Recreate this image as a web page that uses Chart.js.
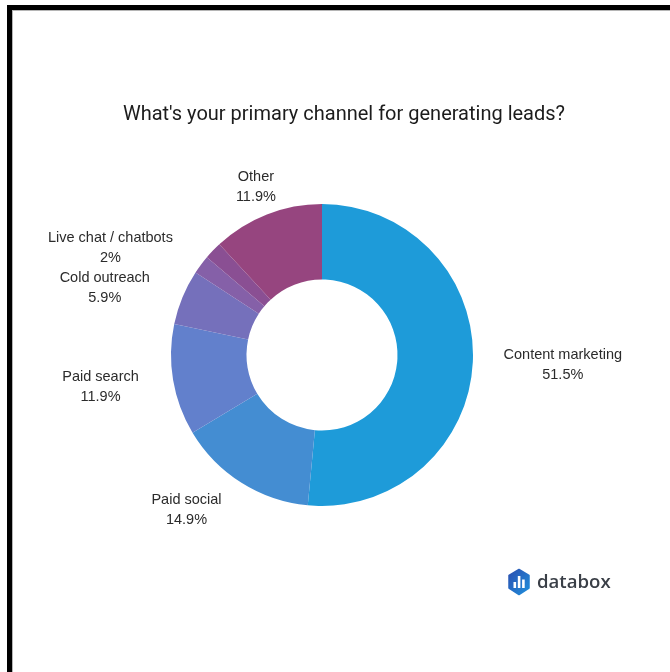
<!DOCTYPE html>
<html>
<head>
  <title>Lead channels</title>
  <script src="https://cdn.jsdelivr.net/npm/chart.js@4.4.1/dist/chart.umd.min.js"></script>
  <style>
    html, body {
      margin: 0;
      background: #fff;
      overflow: hidden;
    }

    .frame {
      position: absolute;
      left: 7px;
      top: 5px;
      width: 670px;
      height: 680px;
      border-left: 5px solid #000;
      border-top: 5px solid #000;
      box-shadow: inset 1px 1px 0 #b5b5b5;
    }

    #leads {
      position: absolute;
      left: 0;
      top: 0;
    }

    h1 {
      position: absolute;
      left: 0;
      top: 101px;
      width: 688px;
      margin: 0;
      text-align: center;
      font: 400 20px/24px Roboto, sans-serif;
      color: #1c1c1c;
    }

    .logo {
      position: absolute;
      left: 507px;
      top: 568px;
    }

    .brand {
      position: absolute;
      left: 537px;
      top: 566px;
      font: 600 18.6px 'Open Sans', sans-serif;
      line-height: 29px;
      color: #3a3f47;
    }
  </style>
</head>
<body>
<div class="frame"></div>
<canvas id="leads" width="670" height="672"></canvas>
<h1 id="title"></h1>

<svg class="logo" width="24" height="28" viewBox="0 0 24 28">
  <defs>
    <linearGradient id="hex" x1="0" y1="0" x2="1" y2="1">
      <stop offset="0" stop-color="#2b4fb0"/>
      <stop offset="1" stop-color="#1f8fdc"/>
    </linearGradient>
  </defs>
  <path d="M12 1.5 L22 7.5 V20 L12 26.5 L2 20 V7.5 Z" fill="url(#hex)" stroke="url(#hex)" stroke-width="1.5" stroke-linejoin="round"/>
  <rect x="6.5" y="14" width="2.6" height="6" fill="#fff"/>
  <rect x="10.8" y="8" width="2.6" height="12" fill="#fff"/>
  <rect x="15.1" y="11.5" width="2.6" height="8.5" fill="#fff"/>
</svg>
<div class="brand">databox</div>

<script>
  const TITLE = "What's your primary channel for generating leads?";

  const channels = ['Content marketing', 'Paid social', 'Paid search', 'Cold outreach', 'Live chat / chatbots', '', 'Other'];
  const shares = [51.5, 14.9, 11.9, 5.9, 2, 1.9, 11.9];
  const shareLabels = ['51.5%', '14.9%', '11.9%', '5.9%', '2%', '', '11.9%'];

  const sliceColors = ['#1e9bd9', '#448dd2', '#6280cc', '#7570bb', '#8560a8', '#8a4f93', '#96457f'];

  // nudges from the point just outside each slice to the middle of its label
  const labelNudges = [[60, 1], [-39, 1.5], [-43, 2.5], [-50, 2], [-66.5, 1.5], [0, 0], [0, 0]];

  document.getElementById('title').textContent = TITLE;

  const outsideLabels = {
    id: 'outsideLabels',
    afterDatasetsDraw(chart) {
      const { ctx } = chart;
      ctx.save();
      ctx.font = "14.5px 'Liberation Sans', sans-serif";
      ctx.fillStyle = '#2b2b2b';
      ctx.textAlign = 'center';
      ctx.textBaseline = 'middle';
      chart.getDatasetMeta(0).data.forEach((arc, i) => {
        if (!channels[i]) return;
        const mid = (arc.startAngle + arc.endAngle) / 2;
        const x = arc.x + (arc.outerRadius + 30) * Math.cos(mid) + labelNudges[i][0];
        const y = arc.y + (arc.outerRadius + 30) * Math.sin(mid) + labelNudges[i][1];
        ctx.fillText(channels[i], x, y - 10);
        ctx.fillText(shareLabels[i], x, y + 10);
      });
      ctx.restore();
    }
  };

  new Chart(document.getElementById('leads'), {
    type: 'doughnut',
    data: {
      labels: channels,
      datasets: [{
        data: shares,
        backgroundColor: sliceColors,
        borderWidth: 0
      }]
    },
    options: {
      responsive: false,
      animation: false,
      cutout: '50%',
      layout: {
        padding: { left: 171, right: 197, top: 204, bottom: 166 }
      },
      plugins: {
        legend: { display: false },
        tooltip: { enabled: false },
        title: { display: false }
      }
    },
    plugins: [outsideLabels]
  });
</script>
</body>
</html>
